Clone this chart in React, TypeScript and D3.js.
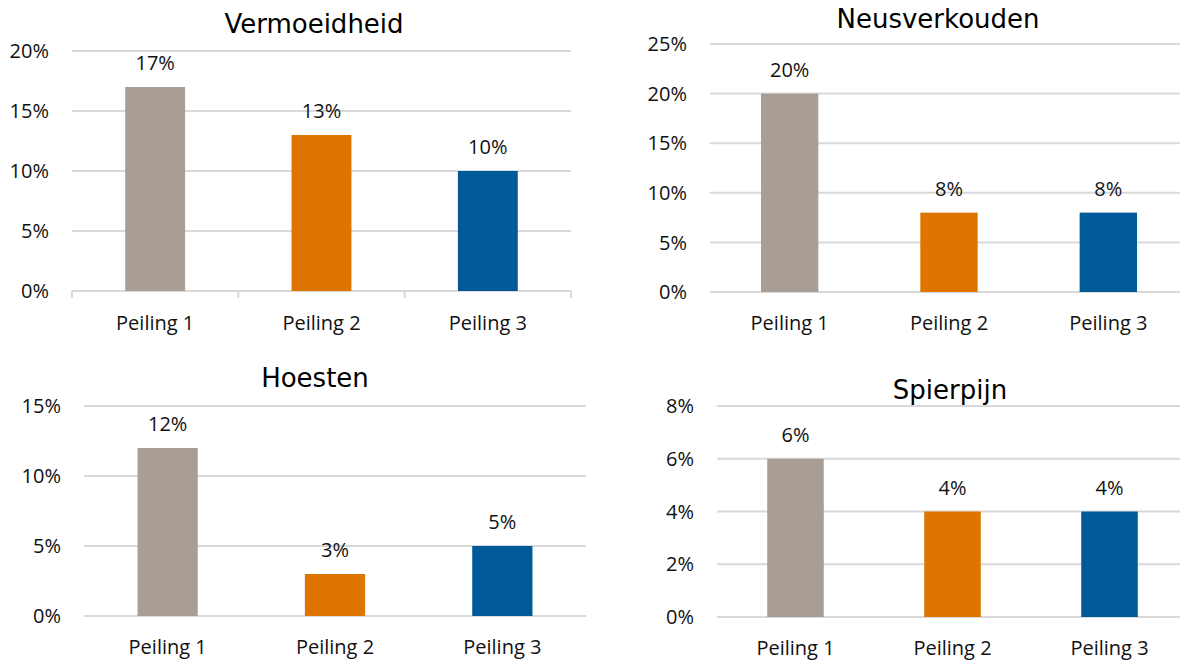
import * as React from 'react';
import * as d3 from 'd3';

const categories = ['Peiling 1', 'Peiling 2', 'Peiling 3'];
const colors = ['#a99e96', '#de7500', '#005a9a'];

const titles = ['Vermoeidheid', 'Neusverkouden', 'Hoesten', 'Spierpijn'];
const vermoeidheid = [17, 13, 10];
const neusverkouden = [20, 8, 8];
const hoesten = [12, 3, 5];
const spierpijn = [6, 4, 4];

const ticksVermoeidheid = [0, 5, 10, 15, 20];
const ticksNeusverkouden = [0, 5, 10, 15, 20, 25];
const ticksHoesten = [0, 5, 10, 15];
const ticksSpierpijn = [0, 2, 4, 6, 8];

const TITLE_FONT = '"DejaVu Sans", Verdana, sans-serif';
const FONT = '"Open Sans", "Noto Sans", sans-serif';

type PanelProps = {
  title: string;
  values: number[];
  ticks: number[];
  x0: number;
  x1: number;
  yBase: number;
  yTop: number;
  titleX: number;
  titleY: number;
  labelRight: number;
  catY: number;
  tickMarks?: boolean;
};

function Panel(p: PanelProps) {
  const xScale = d3.scaleBand<string>()
    .domain(categories)
    .range([p.x0, p.x1])
    .paddingInner(0.64)
    .paddingOuter(0.32);

  const yScale = d3.scaleLinear()
    .domain([0, d3.max(p.ticks) as number])
    .range([p.yBase, p.yTop]);

  const step = xScale.step();
  const bw = xScale.bandwidth();

  return (
    <g>
      <text x={p.titleX} y={p.titleY} textAnchor="middle" fontSize={26} fontFamily={TITLE_FONT} fill="#000">
        {p.title}
      </text>

      {/* gridlines + y labels */}
      {p.ticks.map(t => (
        <g key={t}>
          <line x1={p.x0} x2={p.x1} y1={yScale(t)} y2={yScale(t)} stroke="#d9d9d9" strokeWidth={2} />
          <text x={p.labelRight} y={yScale(t)} dy="0.36em" textAnchor="end" fontSize={20} fill="#111">
            {t}%
          </text>
        </g>
      ))}

      {p.tickMarks && d3.range(categories.length + 1).map(i => (
        <line key={'tm' + i}
          x1={p.x0 + i * step} x2={p.x0 + i * step}
          y1={p.yBase} y2={p.yBase + 7}
          stroke="#d9d9d9" strokeWidth={2} />
      ))}

      {/* bars */}
      {p.values.map((v, i) => {
        const x = xScale(categories[i]) as number;
        return (
          <g key={categories[i]}>
            <rect x={x} y={yScale(v)} width={bw} height={p.yBase - yScale(v)} fill={colors[i]} />
            <text x={x + bw / 2} y={yScale(v) - 17} textAnchor="middle" fontSize={20} fill="#111">
              {v}%
            </text>
          </g>
        );
      })}

      {/* category labels */}
      {categories.map(c => (
        <text key={c} x={(xScale(c) as number) + bw / 2} y={p.catY} textAnchor="middle" fontSize={20} fill="#111">
          {c}
        </text>
      ))}
    </g>
  );
}

export default function App() {
  return (
    <svg width={1180} height={663} style={{ position: 'absolute', left: 0, top: 0, background: '#fff' }}
      fontFamily={FONT}>
      <rect width={1180} height={663} fill="#fff" />
      <Panel title={titles[0]} values={vermoeidheid} ticks={ticksVermoeidheid}
        x0={72} x1={571} yBase={291} yTop={51} titleX={314} titleY={33}
        labelRight={49} catY={330} tickMarks />
      <Panel title={titles[1]} values={neusverkouden} ticks={ticksNeusverkouden}
        x0={710} x1={1188} yBase={292} yTop={44} titleX={938} titleY={28}
        labelRight={687} catY={330} />
      <Panel title={titles[2]} values={hoesten} ticks={ticksHoesten}
        x0={84} x1={586} yBase={616} yTop={406} titleX={315} titleY={387}
        labelRight={61} catY={654} />
      <Panel title={titles[3]} values={spierpijn} ticks={ticksSpierpijn}
        x0={717} x1={1188} yBase={617} yTop={406} titleX={950} titleY={399}
        labelRight={694} catY={655} />
    </svg>
  );
}
